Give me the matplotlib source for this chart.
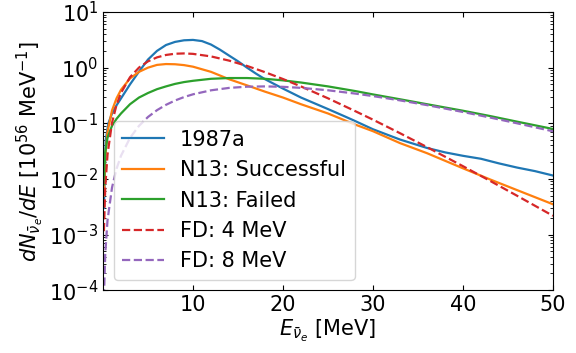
import numpy as np
import matplotlib
matplotlib.use("Agg")
import matplotlib.pyplot as plt
from matplotlib.ticker import LogLocator, NullFormatter

# Energies [MeV] and spectra
E_blue = [0.1, 0.3, 0.6, 1, 1.5, 2, 3, 4, 5, 6, 7, 8, 9, 10, 11, 12, 13, 14, 15, 16, 17, 18, 20, 22, 25, 27, 28, 30, 33, 36, 38, 40, 42, 44, 46, 48, 50]
y_1987a = [0.003, 0.05, 0.1, 0.15, 0.21, 0.28, 0.5, 0.85, 1.4, 2.0, 2.55, 2.9, 3.1, 3.15, 3.0, 2.6, 2.1, 1.65, 1.3, 1.0, 0.78, 0.62, 0.42, 0.29, 0.18, 0.13, 0.11, 0.078, 0.051, 0.036, 0.030, 0.026, 0.023, 0.019, 0.016, 0.0138, 0.0115]

E_n13 = [0.1, 0.25, 0.5, 1, 1.5, 2, 3, 4, 5, 6, 7, 8, 9, 10, 12, 14, 16, 18, 20, 22, 25, 28, 30, 33, 36, 40, 43, 46, 50]
y_n13_succ = [0.005, 0.025, 0.07, 0.17, 0.28, 0.40, 0.64, 0.84, 1.0, 1.12, 1.16, 1.15, 1.11, 1.04, 0.84, 0.62, 0.48, 0.37, 0.29, 0.22, 0.15, 0.095, 0.072, 0.044, 0.029, 0.0155, 0.0098, 0.0063, 0.0035]
y_n13_fail = [0.008, 0.03, 0.055, 0.09, 0.12, 0.15, 0.22, 0.29, 0.35, 0.41, 0.46, 0.51, 0.55, 0.58, 0.63, 0.65, 0.65, 0.63, 0.59, 0.54, 0.46, 0.38, 0.33, 0.27, 0.22, 0.168, 0.135, 0.107, 0.079]

E_fd = [0.1, 0.25, 0.5, 1, 1.5, 2, 3, 4, 5, 6, 7, 8, 9, 10, 12, 14, 16, 18, 20, 22, 25, 28, 30, 33, 36, 40, 43, 46, 50]
y_fd4 = [0.00115, 0.00706, 0.0273, 0.102, 0.2135, 0.352, 0.673, 1.003, 1.297, 1.530, 1.690, 1.778, 1.800, 1.768, 1.591, 1.338, 1.073, 0.829, 0.624, 0.459, 0.281, 0.166, 0.116, 0.0663, 0.0373, 0.01692, 0.00924, 0.00499, 0.00217]
y_fd8 = [7.4e-5, 4.58e-4, 0.001803, 0.00698, 0.01518, 0.02608, 0.05459, 0.08995, 0.1298, 0.1720, 0.2146, 0.2563, 0.2956, 0.3316, 0.3911, 0.4320, 0.4544, 0.4600, 0.4519, 0.4331, 0.3917, 0.3421, 0.3079, 0.2579, 0.2120, 0.1595, 0.1269, 0.09996, 0.07173]

labels = ["1987a", "N13: Successful", "N13: Failed", "FD: 4 MeV", "FD: 8 MeV"]

plt.rcParams['font.size'] = 15
fig = plt.figure(figsize=(5.76, 3.53), dpi=100)
ax = fig.add_axes([0.179, 0.178, 0.781, 0.788])

ax.plot(E_blue, y_1987a, color='C0', lw=1.6, label=labels[0])
ax.plot(E_n13, y_n13_succ, color='C1', lw=1.6, label=labels[1])
ax.plot(E_n13, y_n13_fail, color='C2', lw=1.6, label=labels[2])
ax.plot(E_fd, y_fd4, color='C3', lw=1.6, ls='--', label=labels[3])
ax.plot(E_fd, y_fd8, color='C4', lw=1.6, ls='--', label=labels[4])

ax.set_yscale('log')
ax.set_xlim(0.01, 50)
ax.set_ylim(1e-4, 1e1)
ax.set_xticks([10, 20, 30, 40, 50])
ax.yaxis.set_major_locator(LogLocator(base=10, numticks=10))
ax.yaxis.set_minor_locator(LogLocator(base=10, subs=np.arange(2, 10), numticks=20))
ax.yaxis.set_minor_formatter(NullFormatter())
ax.tick_params(which='both', direction='in', top=True, right=True)

ax.set_xlabel(r'$E_{\bar{\nu}_e}$ [MeV]', labelpad=2)
ax.set_ylabel(r'$dN_{\bar{\nu}_e}/dE$ [$10^{56}$ MeV$^{-1}$]', labelpad=2)
ax.legend(loc='lower left')

fig.savefig('out.png', dpi=100)
